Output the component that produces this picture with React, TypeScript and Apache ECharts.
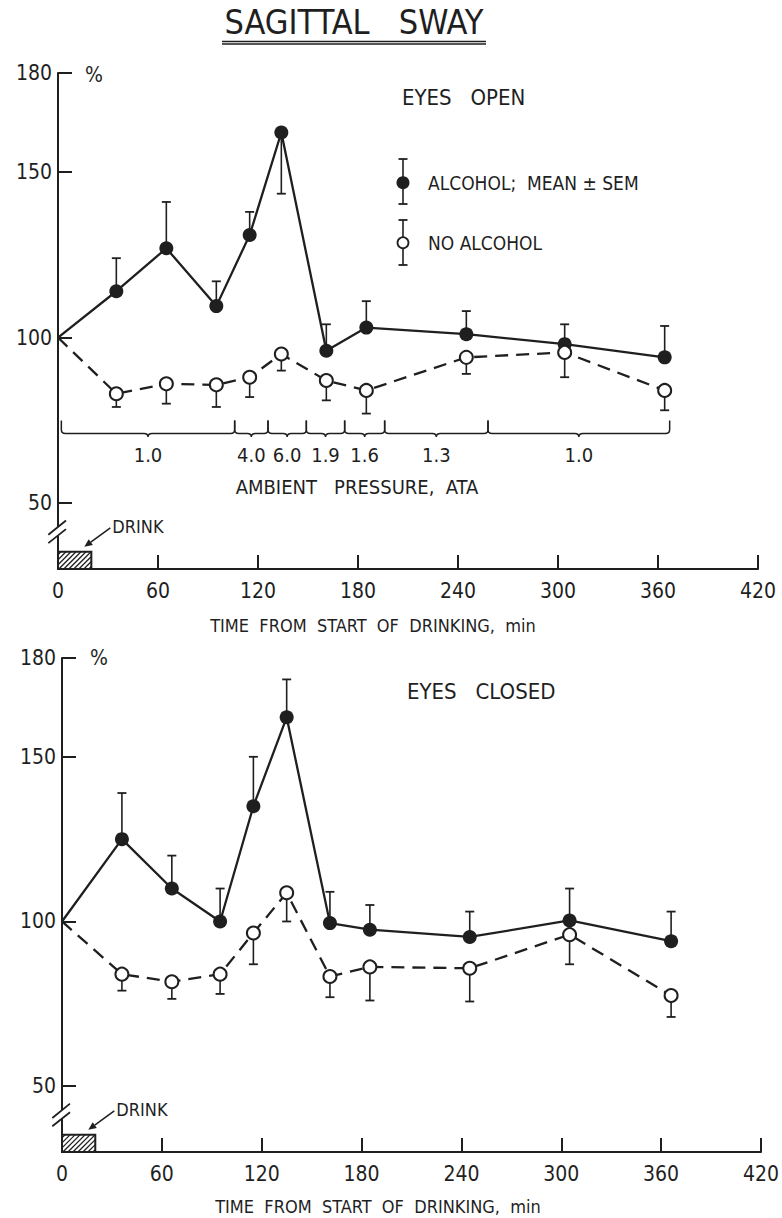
import React, { useEffect, useRef } from "react";
import * as echarts from "echarts";

const FONT = "'Liberation Sans Narrow', 'DejaVu Sans Condensed', 'Open Sans', sans-serif";
const INK = "#1f1f1f";

// ---------- data ----------
const xTickValues = [0, 60, 120, 180, 240, 300, 360, 420];
const yTickValues = [50, 100, 150, 180];

// Eyes open panel
const openTimes = [0, 35, 65, 95, 115, 134, 161, 185, 245, 304, 364];
const openAlcohol = [100, 114, 127, 109.5, 131, 162, 96, 103, 101, 98, 94];
const openAlcoholErrEnd = [null, 124, 141, 117, 138, 143.5, 104, 111, 108, 104, 103.5];
const openNoAlcohol = [100, 83, 86, 85.7, 88, 95, 87, 84, 94, 95.5, 84];
const openNoAlcoholErrEnd = [null, 79, 80, 79, 82, 90, 81, 77, 89, 88, 78];

// Eyes closed panel
const closedTimes = [0, 36, 66, 95, 115, 135, 161, 185, 245, 305, 366];
const closedAlcohol = [100, 125, 110, 100, 135, 162, 99.5, 97.5, 95.3, 100.3, 94];
const closedAlcoholErrEnd = [null, 139, 120, 110, 150, 173.5, 109, 105, 103, 110, 103];
const closedNoAlcohol = [100, 84, 81.7, 84, 96.5, 108.7, 83.3, 86.2, 85.8, 96, 77.5];
const closedNoAlcoholErrEnd = [null, 79, 76.5, 78, 87, 100, 77, 76, 75.7, 87, 71];

// Ambient pressure periods (min) and labels (ATA)
const pressureBounds = [2, 106, 126, 149, 172, 196, 258, 367];
const pressureLabels = ["1.0", "4.0", "6.0", "1.9", "1.6", "1.3", "1.0"];

// Drinking period (min)
const drinkPeriod = [0, 20];

// ---------- helpers ----------
function errData(times: number[], vals: number[], ends: (number | null)[]) {
  const out: number[][] = [];
  times.forEach((t, i) => {
    const e = ends[i];
    if (e !== null && e !== undefined) out.push([t, vals[i], e]);
  });
  return out;
}

function errSeries(k: number, data: number[][]) {
  return {
    type: "custom",
    xAxisIndex: k,
    yAxisIndex: k,
    z: 2,
    data,
    encode: { x: 0, y: [1, 2] },
    renderItem: (_p: any, api: any) => {
      const p = api.coord([api.value(0), api.value(1)]);
      const e = api.coord([api.value(0), api.value(2)]);
      return {
        type: "group",
        children: [
          { type: "line", shape: { x1: p[0], y1: p[1], x2: e[0], y2: e[1] }, style: { stroke: INK, lineWidth: 1.6 } },
          { type: "line", shape: { x1: e[0] - 4.5, y1: e[1], x2: e[0] + 4.5, y2: e[1] }, style: { stroke: INK, lineWidth: 1.8 } },
        ],
      };
    },
  };
}

function drinkSeries(k: number) {
  return {
    type: "custom",
    xAxisIndex: k,
    yAxisIndex: k,
    z: 4,
    data: [[drinkPeriod[0], drinkPeriod[1]]],
    renderItem: (_p: any, api: any) => {
      const p0 = api.coord([api.value(0), 30]);
      const p1 = api.coord([api.value(1), 35.2]);
      const x0 = p0[0], y1 = p0[1], x1 = p1[0], y0 = p1[1];
      const w = x1 - x0, h = y1 - y0;
      const children: any[] = [
        { type: "rect", shape: { x: x0, y: y0, width: w, height: h }, style: { fill: "#fff", stroke: INK, lineWidth: 2 } },
      ];
      for (let s = -h + 3; s < w; s += 5) {
        const t0 = Math.max(0, -s), t1 = Math.min(h, w - s);
        if (t1 <= t0) continue;
        children.push({
          type: "line",
          shape: { x1: x0 + s + t0, y1: y1 - t0, x2: x0 + s + t1, y2: y1 - t1 },
          style: { stroke: INK, lineWidth: 1.3 },
        });
      }
      const tipX = x1 - 7, tipY = y0 - 5;
      const tailX = x1 + 19, tailY = y0 - 24;
      const dx = tipX - tailX, dy = tipY - tailY;
      const len = Math.hypot(dx, dy);
      const ux = dx / len, uy = dy / len;
      const bx = tipX - ux * 8, by = tipY - uy * 8;
      children.push({ type: "line", shape: { x1: tailX, y1: tailY, x2: bx, y2: by }, style: { stroke: INK, lineWidth: 1.5 } });
      children.push({
        type: "polygon",
        shape: { points: [[tipX, tipY], [bx - uy * 3.5, by + ux * 3.5], [bx + uy * 3.5, by - ux * 3.5]] },
        style: { fill: INK },
      });
      children.push({
        type: "text",
        style: {
          text: "DRINK", x: x1 + 21, y: y0 - 25, fill: INK, fontSize: 18, fontFamily: FONT,
          textAlign: "left", textVerticalAlign: "middle", align: "left", verticalAlign: "middle",
        },
      });
      return { type: "group", children };
    },
  };
}

function breakSeries(k: number) {
  return {
    type: "custom",
    xAxisIndex: k,
    yAxisIndex: k,
    z: 5,
    data: [[0, 41.4]],
    renderItem: (_p: any, api: any) => {
      const c = api.coord([api.value(0), api.value(1)]);
      return {
        type: "group",
        children: [
          { type: "rect", shape: { x: c[0] - 4, y: c[1] - 4.5, width: 8, height: 9 }, style: { fill: "#fff" } },
          { type: "line", shape: { x1: c[0] - 9.7, y1: c[1] + 3.5, x2: c[0] + 8, y2: c[1] - 10.8 }, style: { stroke: INK, lineWidth: 1.8 } },
          { type: "line", shape: { x1: c[0] - 9.7, y1: c[1] + 11.8, x2: c[0] + 8, y2: c[1] - 2.2 }, style: { stroke: INK, lineWidth: 1.8 } },
        ],
      };
    },
  };
}

function pressureSeries(k: number) {
  const data = pressureLabels.map((_, i) => [pressureBounds[i], pressureBounds[i + 1], i]);
  return {
    type: "custom",
    xAxisIndex: k,
    yAxisIndex: k,
    z: 2,
    data,
    renderItem: (_p: any, api: any) => {
      const a = api.coord([api.value(0), 71]);
      const b = api.coord([api.value(1), 71]);
      const yb = a[1];
      const top = yb - 13;
      const r = 4;
      const mid = (a[0] + b[0]) / 2;
      const d =
        `M${a[0]},${top} L${a[0]},${yb - r} Q${a[0]},${yb} ${a[0] + r},${yb} ` +
        `L${mid - r},${yb} Q${mid},${yb} ${mid},${yb + 3.5} Q${mid},${yb} ${mid + r},${yb} ` +
        `L${b[0] - r},${yb} Q${b[0]},${yb} ${b[0]},${yb - r} L${b[0]},${top}`;
      const lbl = api.coord([(api.value(0) + api.value(1)) / 2, 64.5]);
      return {
        type: "group",
        children: [
          { type: "path", shape: { pathData: d }, style: { stroke: INK, lineWidth: 1.5, fill: "none" } },
          {
            type: "text",
            style: {
              text: pressureLabels[api.value(2)], x: lbl[0], y: lbl[1], fill: INK, fontSize: 20, fontFamily: FONT,
              textAlign: "center", textVerticalAlign: "middle", align: "center", verticalAlign: "middle",
            },
          },
        ],
      };
    },
  };
}

function lineSeries(k: number, times: number[], vals: number[], filled: boolean) {
  return {
    type: "line",
    xAxisIndex: k,
    yAxisIndex: k,
    z: filled ? 3 : 4,
    data: times.map((t, i) => [t, vals[i]]),
    symbol: "circle",
    showSymbol: true,
    showAllSymbol: true,
    symbolSize: (_v: any, p: any) => (p.dataIndex === 0 ? 0 : filled ? 14 : 13),
    itemStyle: filled ? { color: INK } : { color: "#fff", borderColor: INK, borderWidth: 2 },
    lineStyle: { color: INK, width: 2.3, type: filled ? "solid" : [13, 8] },
    emphasis: { disabled: true },
  };
}

function xAxisOf(k: number) {
  return {
    gridIndex: k,
    type: "value",
    min: 0,
    max: 420,
    interval: 60,
    axisLine: { show: true, onZero: false, lineStyle: { color: INK, width: 2 } },
    axisTick: { show: true, inside: true, length: 14, lineStyle: { color: INK, width: 2 }, customValues: xTickValues },
    axisLabel: { color: INK, fontSize: 21, fontFamily: FONT, margin: 11, customValues: xTickValues },
    splitLine: { show: false },
  };
}

function yAxisOf(k: number) {
  return {
    gridIndex: k,
    type: "value",
    min: 30,
    max: 180,
    interval: 10,
    axisLine: { show: true, onZero: false, lineStyle: { color: INK, width: 2 } },
    axisTick: { show: true, inside: true, length: 14, lineStyle: { color: INK, width: 2 }, customValues: yTickValues },
    axisLabel: { color: INK, fontSize: 21, fontFamily: FONT, margin: 6, customValues: yTickValues },
    splitLine: { show: false },
  };
}

function txt(text: string, x: number, y: number, size: number, align = "left") {
  return {
    type: "text",
    z: 10,
    style: {
      text, x, y, fill: INK, fontSize: size, fontFamily: FONT,
      textAlign: align, textVerticalAlign: "middle", align, verticalAlign: "middle",
    },
  };
}

export default function App() {
  const ref = useRef<HTMLDivElement>(null);
  useEffect(() => {
    const chart = echarts.init(ref.current!, null, { renderer: "svg" });
    const option: any = {
      animation: false,
      backgroundColor: "#ffffff",
      grid: [
        { left: 58, top: 73, width: 700, height: 496 },
        { left: 62, top: 658, width: 700, height: 494 },
      ],
      xAxis: [xAxisOf(0), xAxisOf(1)],
      yAxis: [yAxisOf(0), yAxisOf(1)],
      series: [
        errSeries(0, errData(openTimes, openAlcohol, openAlcoholErrEnd)),
        errSeries(0, errData(openTimes, openNoAlcohol, openNoAlcoholErrEnd)),
        lineSeries(0, openTimes, openAlcohol, true),
        lineSeries(0, openTimes, openNoAlcohol, false),
        pressureSeries(0),
        drinkSeries(0),
        breakSeries(0),
        errSeries(1, errData(closedTimes, closedAlcohol, closedAlcoholErrEnd)),
        errSeries(1, errData(closedTimes, closedNoAlcohol, closedNoAlcoholErrEnd)),
        lineSeries(1, closedTimes, closedAlcohol, true),
        lineSeries(1, closedTimes, closedNoAlcohol, false),
        drinkSeries(1),
        breakSeries(1),
      ],
      graphic: [
        txt("SAGITTAL   SWAY", 354, 22, 34, "center"),
        { type: "line", z: 10, shape: { x1: 222, y1: 41.5, x2: 486, y2: 41.5 }, style: { stroke: INK, lineWidth: 1.5 } },
        { type: "line", z: 10, shape: { x1: 222, y1: 44, x2: 486, y2: 44 }, style: { stroke: INK, lineWidth: 1.5 } },
        txt("%", 85, 75, 21),
        txt("%", 90, 658, 21),
        txt("EYES   OPEN", 402, 97, 22),
        txt("EYES   CLOSED", 407, 691, 22),
        txt("AMBIENT   PRESSURE,  ATA", 357, 487, 20, "center"),
        txt("TIME  FROM  START  OF  DRINKING,  min", 373, 625, 18, "center"),
        txt("TIME  FROM  START  OF  DRINKING,  min", 378, 1206, 18, "center"),
        // legend: alcohol
        { type: "line", z: 10, shape: { x1: 403, y1: 159, x2: 403, y2: 204 }, style: { stroke: INK, lineWidth: 1.6 } },
        { type: "line", z: 10, shape: { x1: 398.5, y1: 159, x2: 407.5, y2: 159 }, style: { stroke: INK, lineWidth: 1.8 } },
        { type: "line", z: 10, shape: { x1: 398.5, y1: 204, x2: 407.5, y2: 204 }, style: { stroke: INK, lineWidth: 1.8 } },
        { type: "circle", z: 11, shape: { cx: 403, cy: 182.7, r: 6.5 }, style: { fill: INK } },
        txt("ALCOHOL;  MEAN ± SEM", 428, 183, 19),
        // legend: no alcohol
        { type: "line", z: 10, shape: { x1: 403, y1: 220, x2: 403, y2: 265 }, style: { stroke: INK, lineWidth: 1.6 } },
        { type: "line", z: 10, shape: { x1: 398.5, y1: 220, x2: 407.5, y2: 220 }, style: { stroke: INK, lineWidth: 1.8 } },
        { type: "line", z: 10, shape: { x1: 398.5, y1: 265, x2: 407.5, y2: 265 }, style: { stroke: INK, lineWidth: 1.8 } },
        { type: "circle", z: 11, shape: { cx: 403, cy: 242.7, r: 5.5 }, style: { fill: "#fff", stroke: INK, lineWidth: 1.8 } },
        txt("NO ALCOHOL", 428, 243, 19),
      ],
    };
    chart.setOption(option);
    return () => chart.dispose();
  }, []);
  return (
    <div
      ref={ref}
      style={{ position: "absolute", left: 0, top: 0, width: 782, height: 1218, background: "#fff" }}
    />
  );
}
